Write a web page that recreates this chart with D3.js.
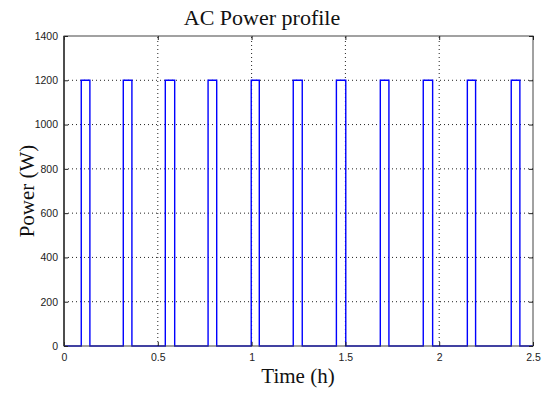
<!DOCTYPE html>
<html><head><meta charset="utf-8">
<script src="https://cdn.jsdelivr.net/npm/d3@7"></script>
<style>body{margin:0;background:#fff}svg{display:block}</style>
</head><body>
<script>
const title = "AC Power profile";
const xLabel = "Time (h)";
const yLabel = "Power (W)";
const xTicks = [0, 0.5, 1, 1.5, 2, 2.5];
const xTickLabels = ["0", "0.5", "1", "1.5", "2", "2.5"];
const yTicks = [0, 200, 400, 600, 800, 1000, 1200, 1400];
const onTimes  = [0.092, 0.316, 0.540, 0.768, 0.998, 1.222, 1.452, 1.686, 1.915, 2.150, 2.384];
const offTimes = [0.138, 0.362, 0.590, 0.814, 1.041, 1.270, 1.502, 1.732, 1.965, 2.194, 2.430];
const pulsePower = [1200, 1200, 1200, 1200, 1200, 1200, 1200, 1200, 1200, 1200, 1200];
const baseTime = [0, 2.5];

const W = 542, H = 393;
const m = {l: 64, r: 9, t: 36, b: 47};
const svg = d3.select("body").append("svg").attr("width", W).attr("height", H);

const x = d3.scaleLinear().domain([0, 2.5]).range([m.l, W - m.r]);
const y = d3.scaleLinear().domain([0, 1400]).range([H - m.b, m.t]);

// grid
const g = svg.append("g");
g.selectAll(".gx").data(xTicks.slice(1, -1)).enter().append("line")
  .attr("x1", d => x(d)).attr("x2", d => x(d)).attr("y1", y(0)).attr("y2", y(1400))
  .attr("stroke", "#222").attr("stroke-width", 1).attr("stroke-dasharray", "1,3");
g.selectAll(".gy").data(yTicks.slice(1, -1)).enter().append("line")
  .attr("y1", d => y(d)).attr("y2", d => y(d)).attr("x1", x(0)).attr("x2", x(2.5))
  .attr("stroke", "#222").attr("stroke-width", 1).attr("stroke-dasharray", "1,3");

// data line
const pts = [[baseTime[0], 0]];
onTimes.forEach((t, i) => {
  pts.push([t, 0], [t, pulsePower[i]], [offTimes[i], pulsePower[i]], [offTimes[i], 0]);
});
pts.push([baseTime[1], 0]);
svg.append("path").datum(pts)
  .attr("d", d3.line().x(d => x(d[0])).y(d => y(d[1])))
  .attr("fill", "none").attr("stroke", "#0000ff").attr("stroke-width", 1.4);

// box
svg.append("rect").attr("x", x(0)).attr("y", y(1400)).attr("width", x(2.5) - x(0)).attr("height", y(0) - y(1400))
  .attr("fill", "none").attr("stroke", "#444").attr("stroke-width", 1);

// axes
const fnt = "Liberation Sans, Arial, sans-serif";
const xa = svg.append("g").attr("transform", `translate(0,${y(0)})`)
  .call(d3.axisBottom(x).tickValues(xTicks).tickFormat((d, i) => xTickLabels[i]).tickSize(-4).tickPadding(8));
const xt = svg.append("g").attr("transform", `translate(0,${y(1400)})`)
  .call(d3.axisTop(x).tickValues(xTicks).tickFormat("").tickSize(-4));
const ya = svg.append("g").attr("transform", `translate(${x(0)},0)`)
  .call(d3.axisLeft(y).tickValues(yTicks).tickFormat(d3.format("d")).tickSize(-4).tickPadding(6));
const yr = svg.append("g").attr("transform", `translate(${x(2.5)},0)`)
  .call(d3.axisRight(y).tickValues(yTicks).tickFormat("").tickSize(-4));
[xa, xt, ya, yr].forEach(a => {
  a.select(".domain").remove();
  a.selectAll("line").attr("stroke", "#222");
  a.selectAll("text").attr("font-family", fnt).attr("font-size", 10.5).attr("fill", "#222");
});

svg.append("line").attr("x1", x(0)).attr("x2", x(0)).attr("y1", y(0)).attr("y2", y(1400))
  .attr("stroke", "#333").attr("stroke-width", 1.5);

const serif = "Liberation Serif, Times New Roman, serif";
svg.append("text").attr("x", 262).attr("y", 25).attr("text-anchor", "middle")
  .attr("font-family", serif).attr("font-size", 22).attr("fill", "#111").text(title);
svg.append("text").attr("x", 298).attr("y", 383).attr("text-anchor", "middle")
  .attr("font-family", serif).attr("font-size", 21).attr("fill", "#111").text(xLabel);
svg.append("text").attr("transform", `translate(34,${(y(0) + y(1400)) / 2}) rotate(-90)`).attr("text-anchor", "middle")
  .attr("font-family", serif).attr("font-size", 21).attr("fill", "#111").text(yLabel);
</script>
</body></html>
